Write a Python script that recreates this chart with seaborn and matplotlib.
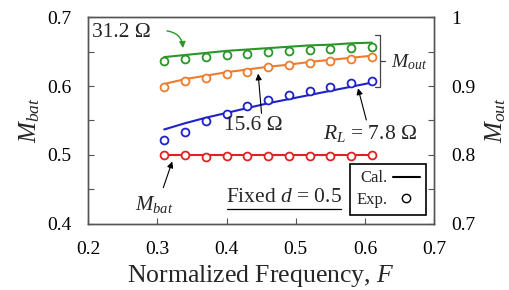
import matplotlib
matplotlib.use("Agg")
import matplotlib.pyplot as plt
from matplotlib.lines import Line2D
from matplotlib.ticker import MultipleLocator, FixedLocator
import pandas as pd
import seaborn as sns

# ---------------------------------------------------------------------------
# Data (normalized frequency F)
# ---------------------------------------------------------------------------
freq = [0.31, 0.34, 0.37, 0.40, 0.43, 0.46, 0.49, 0.52, 0.55, 0.58, 0.61]

# M_bat (left axis)
mbat_cal = [0.500, 0.500, 0.500, 0.500, 0.500, 0.500, 0.500, 0.500, 0.500, 0.500, 0.500]
mbat_exp = [0.500, 0.500, 0.497, 0.499, 0.499, 0.499, 0.499, 0.499, 0.499, 0.499, 0.500]

# M_out (right axis) for the three loads
mout_312_cal = [0.942, 0.945, 0.948, 0.951, 0.953, 0.955, 0.957, 0.959, 0.960, 0.962, 0.963]
mout_312_exp = [0.937, 0.939, 0.942, 0.945, 0.947, 0.949, 0.951, 0.952, 0.954, 0.955, 0.957]
mout_156_cal = [0.903, 0.910, 0.915, 0.920, 0.924, 0.928, 0.931, 0.935, 0.938, 0.941, 0.944]
mout_156_exp = [0.898, 0.907, 0.912, 0.917, 0.921, 0.928, 0.930, 0.933, 0.936, 0.939, 0.942]
mout_78_cal = [0.837, 0.846, 0.854, 0.861, 0.868, 0.875, 0.881, 0.887, 0.893, 0.899, 0.905]
mout_78_exp = [0.821, 0.833, 0.849, 0.859, 0.871, 0.880, 0.887, 0.893, 0.898, 0.904, 0.907]

x_ticks = [0.2, 0.3, 0.4, 0.5, 0.6, 0.7]
left_ticks = [0.4, 0.5, 0.6, 0.7]
right_ticks = [0.7, 0.8, 0.9, 1.0]
right_tick_labels = ["0.7", "0.8", "0.9", "1"]

# ---------------------------------------------------------------------------
# Style
# ---------------------------------------------------------------------------
GREEN = "#2a962a"
ORANGE = "#ec7d2e"
BLUE = "#1e22c8"
RED = "#e02222"
SPINE = "#555555"
LINE_W = 1.5
MARK_S = 32
MARK_LW = 1.3
NOTE_FS = 15.5

sns.set_style("ticks")
plt.rcParams["font.family"] = ["Liberation Serif", "DejaVu Serif"]
plt.rcParams["mathtext.fontset"] = "custom"
plt.rcParams["mathtext.rm"] = "Liberation Serif"
plt.rcParams["mathtext.it"] = "Liberation Serif:italic"
plt.rcParams["mathtext.bf"] = "Liberation Serif:bold"

fig = plt.figure(figsize=(5.09, 2.90), dpi=100)
fig.subplots_adjust(left=0.173, right=0.853, bottom=0.228, top=0.941)
ax = fig.add_subplot(111)
ax2 = ax.twinx()


def draw_series(axis, x, cal, exp, color):
    df = pd.DataFrame({"F": x, "cal": cal, "exp": exp})
    sns.lineplot(data=df, x="F", y="cal", color=color, lw=LINE_W,
                 sort=False, ax=axis, zorder=2)
    sns.scatterplot(data=df, x="F", y="exp", marker="o", s=MARK_S,
                    facecolor="white", edgecolor=color, linewidth=MARK_LW,
                    ax=axis, zorder=3)


draw_series(ax, freq, mbat_cal, mbat_exp, RED)
draw_series(ax2, freq, mout_312_cal, mout_312_exp, GREEN)
draw_series(ax2, freq, mout_156_cal, mout_156_exp, ORANGE)
draw_series(ax2, freq, mout_78_cal, mout_78_exp, BLUE)

# axes ranges and ticks
ax.set_xlim(0.2, 0.7)
ax.set_ylim(0.4, 0.7)
ax2.set_ylim(0.7, 1.0)
ax.xaxis.set_major_locator(FixedLocator(x_ticks))
ax.yaxis.set_major_locator(FixedLocator(left_ticks))
ax.yaxis.set_minor_locator(MultipleLocator(0.05))
ax2.yaxis.set_major_locator(FixedLocator(right_ticks))
ax2.set_yticklabels(right_tick_labels)
ax2.yaxis.set_minor_locator(MultipleLocator(0.05))

for a in (ax, ax2):
    a.tick_params(which="both", direction="in", length=4, width=0.8,
                  color=SPINE, labelcolor="black", labelsize=14, pad=12)
    for sp in a.spines.values():
        sp.set_color(SPINE)
        sp.set_linewidth(1.0)

ax.set_xlabel("Normalized Frequency, $F$", fontsize=18.5, labelpad=4)
ax.set_ylabel("$M_{bat}$", fontsize=18, labelpad=4)
ax2.set_ylabel("$M_{out}$", fontsize=18, labelpad=6)

# ---------------------------------------------------------------------------
# Annotations
# ---------------------------------------------------------------------------
arrow_black = dict(arrowstyle="-|>", color="black", lw=0.8,
                   mutation_scale=9, shrinkA=0, shrinkB=0)

ax.text(0.206, 0.6775, "31.2 Ω", fontsize=NOTE_FS, ha="left", va="center")
ax.annotate("", xy=(0.337, 0.655), xytext=(0.314, 0.680),
            arrowprops=dict(arrowstyle="-|>", color=GREEN, lw=1.0,
                            mutation_scale=9, shrinkA=0, shrinkB=0,
                            connectionstyle="arc3,rad=-0.4"))

ax.text(0.4385, 0.5425, "15.6 Ω", fontsize=NOTE_FS, ha="center", va="center")
ax.annotate("", xy=(0.4457, 0.618), xytext=(0.4506, 0.5604),
            arrowprops=arrow_black)

ax.text(0.607, 0.531, "$R_L$ = 7.8 Ω", fontsize=NOTE_FS, ha="center", va="center")
ax.annotate("", xy=(0.590, 0.5967), xytext=(0.602, 0.5507),
            arrowprops=arrow_black)

ax.text(0.268, 0.428, "$M_{bat}$", fontsize=15, ha="left", va="center")
ax.annotate("", xy=(0.3216, 0.4905), xytext=(0.3087, 0.4526),
            arrowprops=arrow_black)

ax.text(0.637, 0.635, "$M_{out}$", fontsize=14, ha="left", va="center")
# bracket grouping the three M_out curves
bx0, bx1, bx2 = (375 - 88) / 346, (380 - 88) / 346, (385 - 88) / 346
by0, by1, bym = (224 - 35) / 207, (224 - 87) / 207, (224 - 61) / 207
ax.plot([bx0, bx1, bx1, bx0], [by0, by0, by1, by1], color="#444444",
        lw=0.9, transform=ax.transAxes, clip_on=False)
ax.plot([bx1, bx2], [bym, bym], color="#444444", lw=0.9,
        transform=ax.transAxes, clip_on=False)

ax.text(0.4824, 0.4377, "Fixed $d$ = 0.5", fontsize=NOTE_FS, ha="center", va="center")
ux0, ux1, uy = (227 - 88) / 346, (341 - 88) / 346, (224 - 209.5) / 207
ax.plot([ux0, ux1], [uy, uy], color="black", lw=0.9, transform=ax.transAxes)

handles = [
    Line2D([], [], color="black", lw=LINE_W, label="Cal."),
    Line2D([], [], marker="o", ls="none", mfc="white", mec="black",
           mew=1.0, ms=6, label="Exp."),
]
leg = ax.legend(handles=handles, loc="lower right",
                bbox_to_anchor=(0.977, 0.0435), borderaxespad=0,
                markerfirst=False, fontsize=12, handlelength=1.6,
                handletextpad=0.3, labelspacing=0.35, borderpad=0.4,
                fancybox=False, framealpha=1, edgecolor="black")
leg.get_frame().set_linewidth(1.2)
if ax2.get_legend() is not None:
    ax2.get_legend().remove()

# left axes on top so its legend and notes cover the right-axis curves
ax.set_zorder(ax2.get_zorder() + 1)
ax.patch.set_visible(False)

fig.savefig("out.png", dpi=100)
